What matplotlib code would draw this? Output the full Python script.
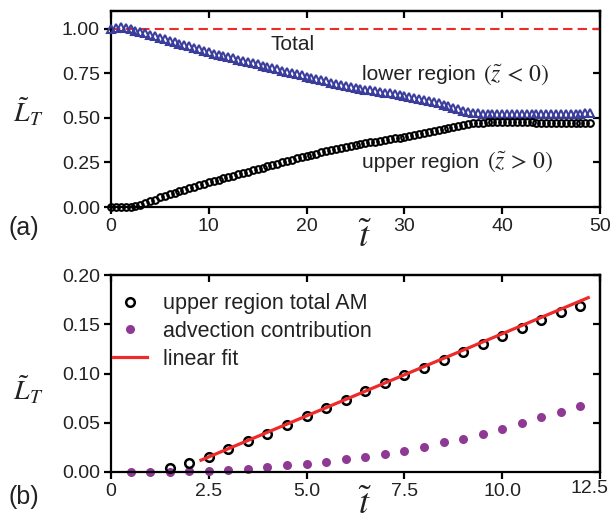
import numpy as np
import matplotlib
matplotlib.use("Agg")
import matplotlib.pyplot as plt

plt.rcParams['font.family'] = ['Liberation Sans', 'DejaVu Sans']
plt.rcParams['mathtext.fontset'] = 'stix'

# ---------------- data: panel (a) ----------------
t_a = np.arange(0, 49.01, 0.5)
upper_a = [
    0.000, 0.000, 0.000, 0.001, 0.002, 0.005, 0.012, 0.022, 0.032, 0.042,
    0.055, 0.063, 0.072, 0.080, 0.088, 0.097, 0.105, 0.113, 0.121, 0.130,
    0.138, 0.145, 0.153, 0.160, 0.168, 0.175, 0.183, 0.190, 0.198, 0.205,
    0.213, 0.220, 0.228, 0.235, 0.243, 0.250, 0.258, 0.265, 0.273, 0.280,
    0.288, 0.294, 0.300, 0.306, 0.312, 0.318, 0.324, 0.330, 0.336, 0.341,
    0.347, 0.352, 0.357, 0.362, 0.367, 0.372, 0.377, 0.381, 0.386, 0.390,
    0.395, 0.400, 0.405, 0.410, 0.415, 0.420, 0.425, 0.430, 0.436, 0.442,
    0.448, 0.454, 0.460, 0.465, 0.469, 0.472, 0.474, 0.475, 0.476, 0.476,
    0.476, 0.476, 0.476, 0.475, 0.475, 0.475, 0.475, 0.474, 0.474, 0.474,
    0.474, 0.474, 0.473, 0.473, 0.473, 0.473, 0.472, 0.472, 0.471,
]
lower_a = [
    1.000, 1.004, 1.008, 1.005, 0.998, 0.990, 0.982, 0.974, 0.966, 0.958,
    0.950, 0.942, 0.934, 0.925, 0.917, 0.909, 0.901, 0.893, 0.885, 0.876,
    0.868, 0.861, 0.854, 0.847, 0.841, 0.834, 0.827, 0.820, 0.813, 0.807,
    0.800, 0.793, 0.786, 0.780, 0.773, 0.766, 0.759, 0.752, 0.746, 0.739,
    0.732, 0.725, 0.718, 0.711, 0.705, 0.698, 0.691, 0.684, 0.678, 0.672,
    0.667, 0.663, 0.659, 0.655, 0.650, 0.646, 0.642, 0.637, 0.633, 0.628,
    0.624, 0.619, 0.614, 0.608, 0.602, 0.596, 0.589, 0.582, 0.574, 0.566,
    0.557, 0.548, 0.540, 0.533, 0.528, 0.525, 0.523, 0.522, 0.521, 0.521,
    0.521, 0.521, 0.521, 0.521, 0.521, 0.521, 0.521, 0.521, 0.521, 0.521,
    0.521, 0.521, 0.521, 0.521, 0.521, 0.522, 0.523, 0.525, 0.528,
]
total_level = 1.0

# ---------------- data: panel (b) ----------------
t_b_upper = [1.5, 2.0, 2.5, 3.0, 3.5, 4.0, 4.5, 5.0, 5.5, 6.0,
             6.5, 7.0, 7.5, 8.0, 8.5, 9.0, 9.5, 10.0, 10.5, 11.0, 11.5, 12.0]
upper_b = [0.004, 0.009, 0.015, 0.023, 0.031, 0.039, 0.048, 0.057,
           0.065, 0.073, 0.082, 0.090, 0.098, 0.106, 0.114, 0.122, 0.130, 0.138,
           0.146, 0.154, 0.162, 0.169]
t_b_adv = [0.5, 1.0, 1.5, 2.0, 2.5, 3.0, 3.5, 4.0, 4.5, 5.0, 5.5, 6.0,
           6.5, 7.0, 7.5, 8.0, 8.5, 9.0, 9.5, 10.0, 10.5, 11.0, 11.5, 12.0]
advection_b = [0.000, 0.000, 0.000, 0.001, 0.001, 0.002, 0.003, 0.005, 0.007, 0.008,
               0.010, 0.013, 0.015, 0.018, 0.021, 0.025, 0.030, 0.034, 0.039, 0.044,
               0.050, 0.056, 0.061, 0.067]
fit_t = [2.3, 12.2]
fit_L = [0.012, 0.177]

xticks_a = [0, 10, 20, 30, 40, 50]
yticks_a = [0.0, 0.25, 0.5, 0.75, 1.0]
yticklabels_a = ['0.00', '0.25', '0.50', '0.75', '1.00']
xticks_b = [0, 2.5, 5.0, 7.5, 10.0, 12.5]
xticklabels_b = ['0', '2.5', '5.0', '7.5', '10.0', '12.5']
yticks_b = [0.0, 0.05, 0.10, 0.15, 0.20]
yticklabels_b = ['0.00', '0.05', '0.10', '0.15', '0.20']

RED = '#ee2a2a'
BLUE = '#3a3d9c'
PURPLE = '#8e3a94'
TXT = '#222222'
FS = 14

fig = plt.figure(figsize=(6.14, 5.23), dpi=100)
ax1 = fig.add_axes([111/614, 1-207/523, 489/614, 196/523])
ax2 = fig.add_axes([111/614, 1-472/523, 489/614, 197/523])


def style(ax, xt, xtl, yt, ytl, xlim, ylim):
    ax.set_xlim(*xlim)
    ax.set_ylim(*ylim)
    ax.set_xticks(xt)
    ax.set_xticklabels(xtl)
    ax.set_yticks(yt)
    ax.set_yticklabels(ytl)
    for s in ax.spines.values():
        s.set_linewidth(1.6)
    ax.tick_params(direction='out', length=5, width=1.6, labelsize=FS,
                   colors='black', labelcolor=TXT, pad=3)
    sx = ax.secondary_xaxis('top')
    sx.set_xticks(xt)
    sx.tick_params(direction='in', length=5, width=1.6, labeltop=False)
    sx.spines['top'].set_linewidth(1.6)
    sy = ax.secondary_yaxis('right')
    sy.set_yticks(yt)
    sy.tick_params(direction='in', length=5, width=1.6, labelright=False)
    sy.spines['right'].set_linewidth(1.6)


# ---- panel (a) ----
ax1.axhline(total_level, color=RED, lw=1.5, ls=(0, (4.5, 2.5)), zorder=1)
ax1.plot(t_a, lower_a, ls='none', marker='^', ms=6.3, mfc='none', mec=BLUE,
         mew=1.5, zorder=3, clip_on=False)
ax1.plot(t_a, upper_a, ls='none', marker='o', ms=4.8, mfc='none', mec='black',
         mew=1.5, zorder=4, clip_on=False)
style(ax1, xticks_a, [str(v) for v in xticks_a], yticks_a, yticklabels_a,
      (0, 50), (0, 1.1))
ax1.text(18.6, 0.91, 'Total', fontsize=15, color=TXT, ha='center', va='center')
ax1.text(25.66, 0.741, 'lower region', fontsize=15, color=TXT, ha='left', va='center')
ax1.text(38.0, 0.741, r'$(\tilde{z}\,<\,0)$', fontsize=17, color=TXT, ha='left', va='center')
ax1.text(25.66, 0.2525, 'upper region', fontsize=15, color=TXT, ha='left', va='center')
ax1.text(38.4, 0.2525, r'$(\tilde{z}\,>\,0)$', fontsize=17, color=TXT, ha='left', va='center')
ax1.set_ylabel(r'$\tilde{L}_T$', fontsize=20, rotation=0, color=TXT, ha='center', va='center')
ax1.yaxis.set_label_coords(-0.17, 0.485)
ax1.set_xlabel(r'$\tilde{t}$', fontsize=26, color=TXT)
ax1.xaxis.set_label_coords(0.52, -0.065)
ax1.xaxis.label.set_va('top')
fig.text(24/614, 1-228/523, '(a)', fontsize=18, color=TXT, ha='center', va='center')

# ---- panel (b) ----
ax2.plot(t_b_upper, upper_b, ls='none', marker='o', ms=6.2, mfc='none', mec='black',
         mew=1.8, zorder=3, label='upper region total AM', clip_on=False)
ax2.plot(t_b_adv, advection_b, ls='none', marker='o', ms=6.5, mfc=PURPLE, mec=PURPLE,
         mew=0, zorder=2, label='advection contribution', clip_on=False)
ax2.plot(fit_t, fit_L, color=RED, lw=2.3, zorder=4, label='linear fit')
# last tick label sits a little left of its tick in the reference
style(ax2, xticks_b, xticklabels_b[:-1] + [''], yticks_b, yticklabels_b,
      (0, 12.5), (0, 0.2))
ax2.annotate(xticklabels_b[-1], xy=(1, 0), xycoords='axes fraction',
             xytext=(-7.5, -5.8), textcoords='offset points', ha='center',
             va='top', fontsize=FS, color=TXT)
leg = ax2.legend(loc='upper left', bbox_to_anchor=(-0.005, 0.93), frameon=False,
                 fontsize=15.5, handlelength=1.6, handletextpad=0.75,
                 labelspacing=0.32, borderaxespad=0.0, borderpad=0.2)
for txt in leg.get_texts():
    txt.set_color(TXT)
ax2.set_ylabel(r'$\tilde{L}_T$', fontsize=20, rotation=0, color=TXT, ha='center', va='center')
ax2.yaxis.set_label_coords(-0.17, 0.416)
ax2.set_xlabel(r'$\tilde{t}$', fontsize=26, color=TXT)
ax2.xaxis.set_label_coords(0.52, -0.075)
ax2.xaxis.label.set_va('top')
fig.text(24/614, 1-497/523, '(b)', fontsize=18, color=TXT, ha='center', va='center')

fig.savefig('out.png', dpi=100)
